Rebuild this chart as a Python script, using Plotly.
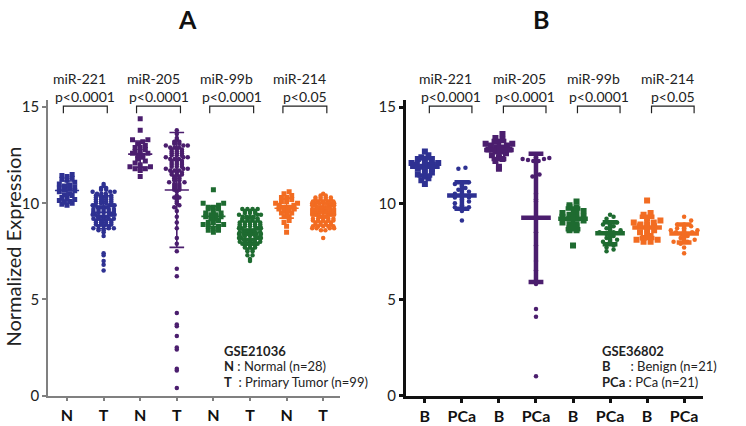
import numpy as np
import plotly.graph_objects as go

# categories / labels
mirs = ["miR-221", "miR-205", "miR-99b", "miR-214"]
pvals = ["p<0.0001", "p<0.0001", "p<0.0001", "p<0.05"]
colors = ["#2E3192", "#4B1E6E", "#1E6B30", "#F26C22"]
ticks_a = ["N", "T", "N", "T", "N", "T", "N", "T"]
ticks_b = ["B", "PCa", "B", "PCa", "B", "PCa", "B", "PCa"]

# Panel A  (GSE21036)  N = normal (n=28), T = primary tumor (n=99)
a221_n = [11.5, 11.45, 11.4, 11.3, 11.25, 11.2, 11.1, 11.0, 10.95, 10.9, 10.85, 10.8, 10.75, 10.7,
          10.65, 10.6, 10.5, 10.45, 10.4, 10.3, 10.25, 10.2, 10.15, 10.1, 10.05, 10.0, 9.95, 9.9]
a221_t = [11.0, 10.9, 10.8, 10.8, 10.7, 10.7, 10.6, 10.6, 10.6, 10.5, 10.5, 10.5,
          10.4, 10.4, 10.4, 10.4, 10.3, 10.3, 10.3, 10.3, 10.2, 10.2, 10.2, 10.2,
          10.1, 10.1, 10.1, 10.1, 10.0, 10.0, 10.0, 10.0,
          9.9, 9.9, 9.9, 9.9, 9.9, 9.8, 9.8, 9.8, 9.8, 9.8, 9.7, 9.7, 9.7, 9.7, 9.7,
          9.6, 9.6, 9.6, 9.6, 9.6, 9.5, 9.5, 9.5, 9.5, 9.5, 9.4, 9.4, 9.4, 9.4, 9.4,
          9.3, 9.3, 9.3, 9.3, 9.3, 9.2, 9.2, 9.2, 9.2, 9.2,
          9.1, 9.1, 9.1, 9.1, 9.0, 9.0, 9.0, 9.0, 8.9, 8.9, 8.9, 8.9,
          8.8, 8.8, 8.8, 8.7, 8.7, 8.7, 8.6, 8.6, 8.5, 8.3,
          7.4, 7.3, 7.0, 6.8, 6.5]
a205_n = [14.4, 13.8, 13.3, 13.3, 13.2, 13.1, 13.0, 12.9, 12.9, 12.8, 12.7, 12.7, 12.6, 12.6,
          12.5, 12.5, 12.4, 12.3, 12.2, 12.1, 12.0, 11.9, 11.9, 11.8, 11.8, 11.8, 11.7, 11.4]
a205_t = [13.8, 13.6, 13.4, 13.3, 13.2, 13.2, 13.1, 13.1, 13.0, 13.0, 13.0, 12.9, 12.9, 12.9,
          12.8, 12.8, 12.8, 12.7, 12.7, 12.7, 12.6, 12.6, 12.6, 12.5, 12.5, 12.5, 12.4, 12.4, 12.4,
          12.3, 12.3, 12.3, 12.2, 12.2, 12.2, 12.1, 12.1, 12.1, 12.0, 12.0, 12.0,
          11.9, 11.9, 11.9, 11.8, 11.8, 11.8, 11.7, 11.7, 11.7, 11.6, 11.6, 11.6, 11.5, 11.5, 11.5,
          11.4, 11.4, 11.3, 11.3, 11.2, 11.2, 11.1, 11.1, 11.0, 11.0, 10.9, 10.9, 10.8, 10.8,
          10.7, 10.7, 10.6,
          10.4, 10.3, 10.3, 10.2, 10.1, 10.0, 9.9, 9.8,
          9.6, 9.3, 9.0, 8.7, 8.2, 7.9, 7.5, 6.6, 6.2, 4.3, 3.7, 3.6, 3.1, 2.5, 2.4, 1.4, 1.3, 0.4]
a99b_n = [10.7, 10.0, 10.0, 9.9, 9.8, 9.8, 9.7, 9.7, 9.6, 9.5, 9.5, 9.4, 9.4, 9.3, 9.3, 9.2,
          9.2, 9.1, 9.0, 9.0, 8.9, 8.9, 8.8, 8.8, 8.7, 8.6, 8.6, 8.5]
a99b_t = [9.7, 9.7, 9.7, 9.7, 9.6, 9.6, 9.6, 9.5, 9.5, 9.5, 9.4, 9.4, 9.4,
          9.3, 9.3, 9.3, 9.3, 9.2, 9.2, 9.2, 9.2, 9.1, 9.1, 9.1, 9.1,
          9.0, 9.0, 9.0, 9.0, 9.0, 8.9, 8.9, 8.9, 8.9, 8.9, 8.8, 8.8, 8.8, 8.8, 8.8,
          8.7, 8.7, 8.7, 8.7, 8.7, 8.6, 8.6, 8.6, 8.6, 8.6, 8.5, 8.5, 8.5, 8.5, 8.5,
          8.4, 8.4, 8.4, 8.4, 8.4, 8.4, 8.3, 8.3, 8.3, 8.3, 8.3, 8.2, 8.2, 8.2, 8.2, 8.2,
          8.1, 8.1, 8.1, 8.1, 8.1, 8.0, 8.0, 8.0, 8.0, 8.0,
          7.9, 7.9, 7.9, 7.9, 7.8, 7.8, 7.8, 7.7, 7.7, 7.7, 7.6, 7.6, 7.5, 7.5, 7.3, 7.3, 7.1, 7.0]
a214_n = [10.6, 10.5, 10.4, 10.3, 10.3, 10.2, 10.1, 10.1, 10.0, 10.0, 9.9, 9.9, 9.8, 9.8, 9.8,
          9.7, 9.7, 9.6, 9.6, 9.5, 9.5, 9.4, 9.3, 9.3, 9.1, 9.0, 8.8, 8.5]
a214_t = [10.5, 10.4, 10.4, 10.3, 10.3, 10.3, 10.3, 10.2, 10.2, 10.2, 10.2,
          10.1, 10.1, 10.1, 10.1, 10.1, 10.0, 10.0, 10.0, 10.0, 10.0, 10.0, 10.0,
          9.9, 9.9, 9.9, 9.9, 9.9, 9.9, 9.9, 9.8, 9.8, 9.8, 9.8, 9.8, 9.8, 9.8,
          9.7, 9.7, 9.7, 9.7, 9.7, 9.7, 9.7, 9.6, 9.6, 9.6, 9.6, 9.6, 9.6, 9.6,
          9.5, 9.5, 9.5, 9.5, 9.5, 9.5, 9.5, 9.4, 9.4, 9.4, 9.4, 9.4, 9.4,
          9.3, 9.3, 9.3, 9.3, 9.3, 9.2, 9.2, 9.2, 9.2, 9.2, 9.1, 9.1, 9.1, 9.1, 9.1,
          9.0, 9.0, 9.0, 9.0, 8.9, 8.9, 8.9, 8.9, 8.8, 8.8, 8.8, 8.8, 8.8,
          8.7, 8.7, 8.7, 8.7, 8.6, 8.6, 8.2]

# Panel B  (GSE36802)  B = benign (n=21), PCa (n=21)
b221_b = [12.7, 12.5, 12.4, 12.3, 12.3, 12.2, 12.1, 12.1, 12.0, 12.0, 12.0, 11.9, 11.8, 11.8,
          11.7, 11.6, 11.5, 11.4, 11.3, 11.2, 11.0]
b221_p = [11.85, 11.8, 11.1, 11.0, 10.9, 10.8, 10.7, 10.6, 10.5, 10.4, 10.3, 10.3, 10.2, 10.1,
          10.0, 9.9, 9.8, 9.8, 9.7, 9.6, 9.1]
b205_b = [13.6, 13.4, 13.3, 13.2, 13.1, 13.1, 13.0, 13.0, 12.9, 12.9, 12.8, 12.8, 12.7, 12.7,
          12.6, 12.5, 12.4, 12.3, 12.2, 11.9, 11.8]
b205_p = [12.4, 12.35, 12.3, 12.3, 12.25, 12.2, 12.2, 11.5, 11.4, 10.5, 10.2, 10.1, 9.2, 8.5,
          7.8, 7.0, 6.5, 5.8, 4.5, 4.1, 1.0]
b99b_b = [10.1, 9.9, 9.8, 9.8, 9.6, 9.5, 9.5, 9.4, 9.3, 9.3, 9.2, 9.2, 9.1, 9.0, 8.9, 8.9, 8.8,
          8.7, 8.6, 8.6, 7.8]
b99b_p = [9.4, 9.3, 9.2, 9.0, 8.9, 8.9, 8.8, 8.7, 8.6, 8.5, 8.5, 8.4, 8.3, 8.2, 8.1, 8.0, 7.9,
          7.8, 7.7, 7.6, 7.5]
b214_b = [10.15, 9.5, 9.4, 9.2, 9.1, 9.0, 9.0, 8.9, 8.9, 8.8, 8.8, 8.7, 8.6, 8.5, 8.4, 8.3, 8.2,
          8.1, 8.1, 8.0, 8.0]
b214_p = [9.3, 9.1, 8.9, 8.9, 8.8, 8.7, 8.7, 8.6, 8.6, 8.5, 8.5, 8.4, 8.4, 8.3, 8.2, 8.1, 8.0,
          8.0, 7.9, 7.7, 7.4]

groups_a = [a221_n, a221_t, a205_n, a205_t, a99b_n, a99b_t, a214_n, a214_t]
groups_b = [b221_b, b221_p, b205_b, b205_p, b99b_b, b99b_p, b214_b, b214_p]

FONT = "Lato"
W, H = 746, 426


# screen pixels -> paper fractions
def px(xp):
    return xp / W


def py(yp):
    return 1 - yp / H


def swarm(vals, center, bin_h, dx, maxw):
    # simple row-based scatter (Prism-like): values in the same bin are spread sideways
    rows = {}
    for v in sorted(vals):
        rows.setdefault(round(v / bin_h), []).append(v)
    xs, ys = [], []
    for row in rows.values():
        n = len(row)
        step = dx if n < 2 else min(dx, maxw / (n - 1))
        order = sorted(range(n), key=lambda j: abs(j - (n - 1) / 2))
        for j, v in zip(order, row):
            xs.append(center + (j - (n - 1) / 2) * step)
            ys.append(v)
    return xs, ys


fig = go.Figure()


def add_panel(groups, xa, ya, big):
    for i, vals in enumerate(groups):
        col = colors[i // 2]
        normal = i % 2 == 0
        if big:
            bin_h = 0.22 if normal else 0.12
            dx, maxw = 0.14, 0.6
        else:
            bin_h = 0.25
            dx, maxw = 0.19, 0.72
        xs, ys = swarm(vals, i, bin_h, dx, maxw)
        fig.add_trace(go.Scatter(
            x=xs, y=ys, mode="markers", xaxis=xa, yaxis=ya, showlegend=False,
            marker=dict(symbol="square" if normal else "circle",
                        size=(5 if big else 6) if normal else 4.5,
                        color=col, line_width=0)))
    # mean +/- SD lines on top
    for i, vals in enumerate(groups):
        col = colors[i // 2]
        m = float(np.mean(vals))
        s = float(np.std(vals, ddof=1))
        mw = 0.33 if big else 0.4
        cw = 0.2
        fig.add_trace(go.Scatter(
            x=[i - mw, i + mw, None, i, i, None, i - cw, i + cw, None, i - cw, i + cw],
            y=[m, m, None, m - s, m + s, None, m + s, m + s, None, m - s, m - s],
            mode="lines", xaxis=xa, yaxis=ya, showlegend=False,
            line=dict(color=col, width=1.6 if big else 4.5)))


add_panel(groups_a, "x", "y", True)
add_panel(groups_b, "x2", "y2", False)

axis_font = dict(family=FONT, size=15, color="#222")
xtick_font = dict(family=FONT, size=16, color="#111")
ydom = [py(403), py(100)]

fig.update_layout(
    width=W, height=H,
    margin=dict(l=0, r=0, t=0, b=0),
    paper_bgcolor="white", plot_bgcolor="white",
    font=dict(family=FONT),
    xaxis=dict(domain=[px(48), px(340)], range=[-0.52, 7.46], anchor="y",
               tickvals=list(range(8)), ticktext=["<b>%s</b>" % t for t in ticks_a],
               tickfont=xtick_font, showline=True, linecolor="#808080", linewidth=1.5,
               ticks="outside", ticklen=4, tickwidth=1.5, tickcolor="#808080",
               showgrid=False, zeroline=False),
    yaxis=dict(domain=ydom, range=[0, 15.35], anchor="x",
               tickvals=[0, 5, 10, 15], tickfont=axis_font,
               showline=True, linecolor="#808080", linewidth=1.5,
               ticks="outside", ticklen=4, tickwidth=1.5, tickcolor="#808080",
               showgrid=False, zeroline=False),
    xaxis2=dict(domain=[px(406), px(703)], range=[-0.51, 7.51], anchor="y2",
                tickvals=list(range(8)), ticktext=["<b>%s</b>" % t for t in ticks_b],
                tickfont=xtick_font, showline=True, linecolor="#111", linewidth=3,
                ticks="outside", ticklen=4, tickwidth=2.5, tickcolor="#111",
                showgrid=False, zeroline=False),
    yaxis2=dict(domain=ydom, range=[0, 15.35], anchor="x2",
                tickvals=[0, 5, 10, 15], tickfont=axis_font,
                showline=True, linecolor="#111", linewidth=3,
                ticks="outside", ticklen=4, tickwidth=2.5, tickcolor="#111",
                showgrid=False, zeroline=False),
)

ann = []
# panel letters
for letter, xp in [("A", 187), ("B", 541)]:
    ann.append(dict(text="<b>%s</b>" % letter, x=px(xp), y=py(16), xref="paper", yref="paper",
                    xanchor="center", yanchor="middle", showarrow=False,
                    font=dict(family=FONT, size=25, color="#111")))
# y title
ann.append(dict(text="Normalized Expression", x=px(13), y=py(250), xref="paper",
                yref="paper", xanchor="center", yanchor="middle", textangle=-90,
                showarrow=False, font=dict(family=FONT, size=20, color="#222")))

shapes = []
lab_font = dict(family=FONT, size=14, color="#222")
for xa, ya, off_l, off_r in [("x", "y", -0.1, 1.1), ("x2", "y2", 0.12, 1.27)]:
    for k in range(4):
        x0, x1 = 2 * k + off_l, 2 * k + off_r
        xc = (x0 + x1) / 2
        ann.append(dict(text=mirs[k], x=xc - 0.15, y=py(78), xref=xa, yref="paper",
                        xanchor="center", yanchor="middle", showarrow=False, font=lab_font))
        ann.append(dict(text=pvals[k], x=xc, y=py(96), xref=xa, yref="paper",
                        xanchor="center", yanchor="middle", showarrow=False, font=lab_font))
        shapes.append(dict(type="path", xref=xa, yref=ya,
                           path="M %f 14.68 L %f 15.05 L %f 15.05 L %f 14.68" % (x0, x0, x1, x1),
                           line=dict(color="#222", width=1.2)))

leg_font = dict(family=FONT, size=13, color="#222")
for txt, yy in [("<b>GSE21036</b>", 357), ("<b>N</b> : Normal (n=28)", 373),
                ("<b>T</b>  : Primary Tumor (n=99)", 389)]:
    ann.append(dict(text=txt, x=px(222), y=py(yy), xref="paper", yref="paper",
                    xanchor="left", yanchor="middle", showarrow=False, font=leg_font))
for txt, yy in [("<b>GSE36802</b>", 357),
                ("<b>B</b>\u00a0\u00a0\u00a0\u00a0\u00a0 : Benign (n=21)", 373),
                ("<b>PCa</b> : PCa (n=21)", 389)]:
    ann.append(dict(text=txt, x=px(600), y=py(yy), xref="paper", yref="paper",
                    xanchor="left", yanchor="middle", showarrow=False, font=leg_font))

fig.update_layout(annotations=ann, shapes=shapes)

# drop the default page margin so the 746x426 figure fills the window exactly
fig.write_html("out.html", config={"displayModeBar": False},
               post_script="document.body.style.margin='0px';")
